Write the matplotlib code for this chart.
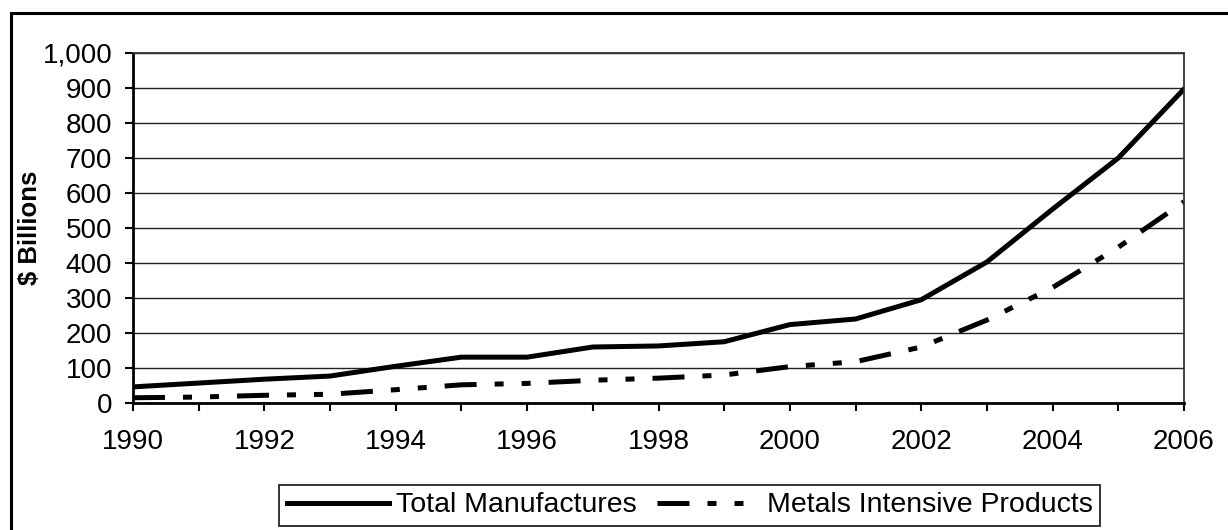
import matplotlib
matplotlib.use("Agg")
import matplotlib.pyplot as plt
from matplotlib.ticker import FuncFormatter, MultipleLocator
from matplotlib.patches import Rectangle

years = [1990, 1991, 1992, 1993, 1994, 1995, 1996, 1997, 1998,
         1999, 2000, 2001, 2002, 2003, 2004, 2005, 2006]
total_manufactures = [46, 57, 68, 77, 105, 131, 131, 160, 163,
                      175, 224, 240, 295, 403, 554, 700, 897]
metals_intensive = [15, 17, 22, 25, 38, 52, 56, 65, 71,
                    80, 104, 118, 160, 237, 330, 445, 575]
series_labels = ["Total Manufactures", "Metals Intensive Products"]
y_label = "$ Billions"

plt.rcParams['font.family'] = ['Liberation Sans', 'DejaVu Sans']

W, H = 1228, 530
fig = plt.figure(figsize=(W / 100, H / 100), dpi=100)

# outer frame
fig.patches.append(Rectangle((11 / W, -0.1), 1.2, 1 - 13 / H + 0.1,
                             transform=fig.transFigure, fill=False,
                             edgecolor='black', linewidth=2.2))

left, right, top, bottom = 133, 1184, 53, 403
ax = fig.add_axes([left / W, 1 - bottom / H, (right - left) / W, (bottom - top) / H])

lw = 3.6
ax.plot(years, total_manufactures, color='black', linewidth=lw,
        solid_joinstyle='round', label=series_labels[0])
ax.plot(years, metals_intensive, color='black', linewidth=lw,
        dashes=(6.4, 3.6, 1.8, 3.6, 1.8, 3.6), dash_capstyle='butt',
        label=series_labels[1])

ax.set_xlim(1990, 2006)
ax.set_ylim(0, 1000)
ax.xaxis.set_major_locator(MultipleLocator(2))
ax.xaxis.set_minor_locator(MultipleLocator(1))
ax.yaxis.set_major_locator(MultipleLocator(100))
ax.yaxis.set_major_formatter(FuncFormatter(lambda v, p: f"{int(v):,}"))

ax.grid(axis='y', color='#222222', linewidth=1.0)
ax.set_axisbelow(True)

for s in ['top', 'right']:
    ax.spines[s].set_linewidth(1.3)
    ax.spines[s].set_color('#333333')
for s in ['left', 'bottom']:
    ax.spines[s].set_linewidth(2.0)

ax.tick_params(axis='y', which='major', length=6, width=1.5, pad=9, labelsize=20)
ax.tick_params(axis='x', which='both', length=6, width=1.5, direction='out')
ax.tick_params(axis='x', which='major', pad=12.5, labelsize=20)

ax.set_ylabel(y_label, fontsize=18.5, fontweight='bold')
ax.yaxis.set_label_coords((42 - left) / (right - left), 0.5)

leg = fig.legend(loc='center', bbox_to_anchor=((276 + 1103) / 2 / W, 1 - 505.5 / H),
                 ncol=2, frameon=True, fancybox=False, edgecolor='black',
                 fontsize=20.5, handlelength=3.6, handletextpad=0.25,
                 columnspacing=0.7, borderpad=0.28, borderaxespad=0)
leg.get_frame().set_linewidth(1.4)

fig.savefig("out.png", dpi=100)
